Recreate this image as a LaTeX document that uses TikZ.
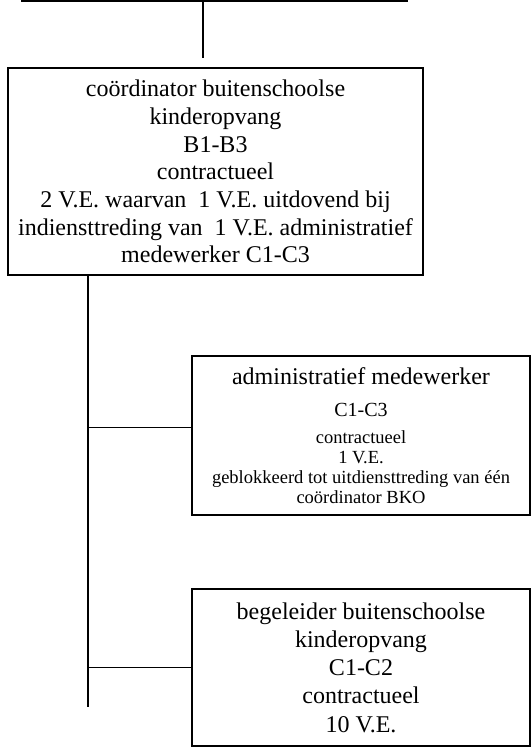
\documentclass[tikz,border=0pt]{standalone}
\usepackage{fontspec}
\setmainfont{Liberation Serif}
\begin{document}
\begin{tikzpicture}[x=1pt,y=-1pt]
\tikzstyle{lien}=[line width=1.2pt]
\tikzset{fonction/.style={draw,line width=1.2pt,align=center,inner sep=0pt,
minimum width=#1},
fonction/.default={338pt}}
\clip (0,0) rectangle (531,747);
\node[fonction=385pt,minimum height=80pt] (A) at (214.5,-39){};
\node[fonction=415pt,minimum height=207pt,font=\fontsize{24}{27.7}\selectfont] (B) at (215.5,171.5){coördinator buitenschoolse\\kinderopvang\\B1-B3\\contractueel\\2 V.E. waarvan~ 1 V.E. uitdovend bij\\indiensttreding van~ 1 V.E. administratief\\medewerker C1-C3};
\node[fonction,minimum height=159pt,font=\fontsize{18.5}{20}\selectfont] (C) at (361,435.5){{\fontsize{24}{28}\selectfont administratief medewerker}\\[12pt]{\fontsize{20}{22}\selectfont C1-C3}\\[7pt]contractueel\\1 V.E.\\geblokkeerd tot uitdiensttreding van één\\coördinator BKO};
\node[fonction,minimum height=157pt,font=\fontsize{24}{28.3}\selectfont] (D) at (361,667.5){begeleider buitenschoolse\\kinderopvang\\C1-C2\\contractueel\\10 V.E.};

\coordinate (a) at (203,58);
\draw[lien] (A.south -| a) -- (a);

\coordinate (T) at (88,707);
\draw[lien] (B.south -| T) -- (T);
\draw[lien] ([yshift=8pt]C.west) -- ([yshift=8pt]C.west -| T);
\draw[lien] (D.west) -- (D.west -| T);
\end{tikzpicture}
\end{document}
